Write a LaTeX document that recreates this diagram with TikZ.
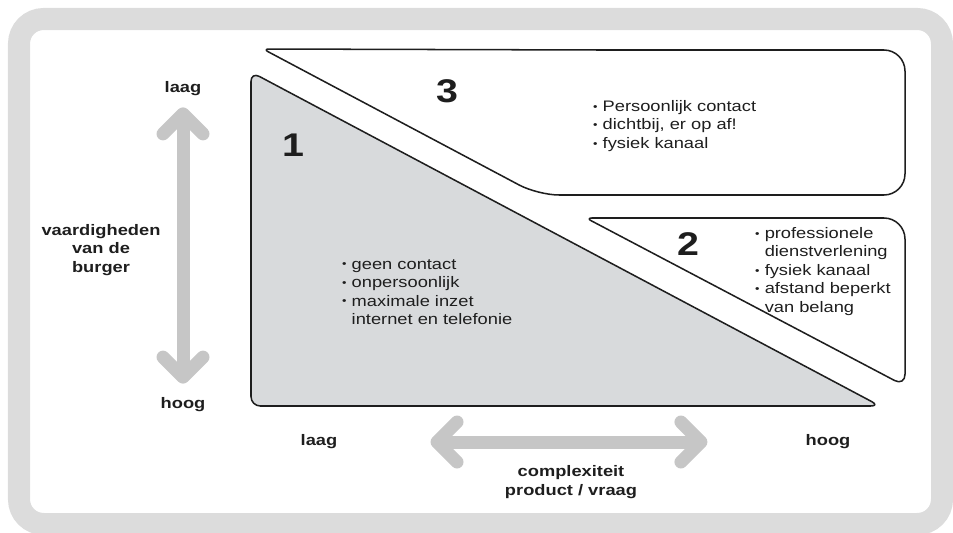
\documentclass[tikz,border=0pt]{standalone}
\usepackage{fontspec}
\setmainfont{Liberation Sans}[FakeStretch=1.2]
\usepackage{tikz}
\usetikzlibrary{arrows.meta}

\definecolor{framegray}{RGB}{220,220,220}
\definecolor{arrowgray}{RGB}{198,198,198}
\definecolor{regiongray}{RGB}{216,218,220}
\definecolor{inkgray}{RGB}{30,30,30}

\newcommand{\bul}{\raisebox{0.08em}{\fontsize{9}{9}\selectfont\textbullet}\ }
\newcommand{\hang}{\phantom{\bul}}

\begin{document}
\begin{tikzpicture}[x=0.03cm, y=-0.03cm,
    region/.style={draw=inkgray, line width=1.3pt, line join=round},
    bigdigit/.style={font=\fontsize{28}{30}\selectfont\bfseries, text=inkgray},
    axislabel/.style={font=\fontsize{13}{15.8}\selectfont\bfseries, text=inkgray,
      align=center, inner sep=0pt},
    bullets/.style={font=\fontsize{13}{15.8}\selectfont, text=inkgray,
      align=left, inner sep=0pt, anchor=north west},
    bigbarb/.tip={Straight Barb[round, length=0.6cm, width=1.2cm]},
    bigarrow/.style={draw=arrowgray, line width=0.39cm, {bigbarb}-{bigbarb}}]
    \useasboundingbox (0,0) rectangle (953,532);
    % frame
    \draw[framegray, line width=0.66cm, rounded corners=21pt] (19,19) rectangle (942,524);
    % regions
    \draw[region, fill=regiongray, rounded corners=8pt]
    (251,72) -- (880,406) -- (251,406) -- cycle;
    \draw[region, fill=white, rounded corners=18pt]
    (600,50) -- (905,50) -- (905,195) -- (538,195) [rounded corners=5pt] -- (263,49) -- cycle;
    \draw[region, fill=white, rounded corners=18pt]
    (750,218) -- (905,218) [rounded corners=10pt] -- (905,386) [rounded corners=5pt] -- (586,218) -- cycle;
    % numbers
    \node[bigdigit] (num1) at (293,145) {1};
    \node[bigdigit] (num2) at (688,244) {2};
    \node[bigdigit] (num3) at (447,91) {3};
    % region texts
    \node[bullets] (txt1) at (342,259) {\bul geen contact\\ \bul onpersoonlijk\\
      \bul maximale inzet\\ \hang internet en telefonie};
    \node[bullets] (txt2) at (755,227) {\bul professionele\\ \hang dienstverlening\\
      \bul fysiek kanaal\\ \bul afstand beperkt\\ \hang van belang};
    \node[bullets] (txt3) at (593,100) {\bul Persoonlijk contact\\
      \bul dichtbij, er op af!\\ \bul fysiek kanaal};
    % axes
    \node[axislabel] (laagL) at (183,89) {laag};
    \node[axislabel] (hoogL) at (183,405) {hoog};
    \node[axislabel] (skillL) at (101,250) {vaardigheden\\van de\\burger};
    \node[axislabel] (laagB) at (319,442) {laag};
    \node[axislabel] (hoogB) at (828,442) {hoog};
    \node[axislabel] (complexL) at (571,482) {complexiteit\\product / vraag};
    \draw[bigarrow, shorten <=0.33cm, shorten >=0.42cm] (laagL) -- (hoogL);
    \draw[bigarrow, shorten <=2.79cm, shorten >=2.94cm] (laagB) -- (hoogB);
  \end{tikzpicture}
\end{document}
